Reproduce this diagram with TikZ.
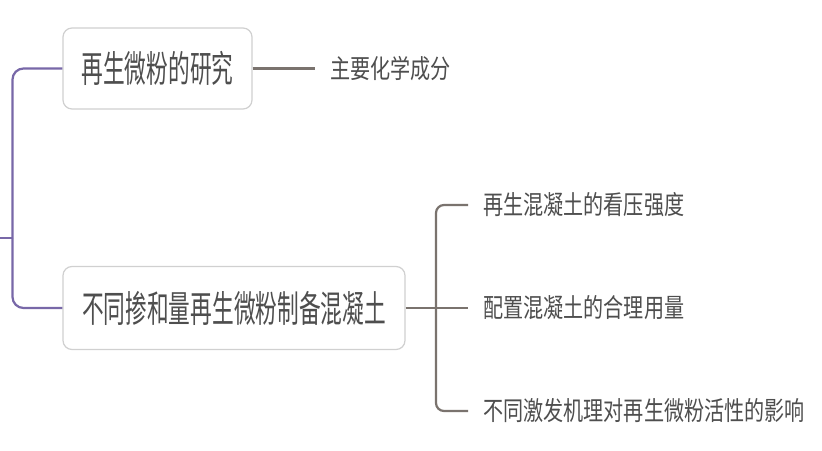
\documentclass[tikz,border=0pt]{standalone}
\usepackage{fontspec}
\usepackage{graphicx}
\newfontfamily\cjk{Noto Sans CJK SC}
\definecolor{txt}{RGB}{78,78,78}
\definecolor{conn}{RGB}{122,115,110}
\definecolor{purp}{RGB}{120,104,168}
\definecolor{boxline}{RGB}{208,208,208}
\newcommand\bigtxt[1]{\scalebox{1}[1.7]{\cjk\fontsize{21.7pt}{21.7pt}\selectfont #1}}
\newcommand\leaftxt[1]{\scalebox{1}[1.3]{\cjk\fontsize{20.1pt}{20.1pt}\selectfont #1}}
\begin{document}
\begin{tikzpicture}[x=1pt,y=-1pt,
  topicbox/.style={draw=boxline,line width=1.2pt,fill=white,rounded corners=9pt,text=txt,inner sep=0pt,anchor=center},
  leaf/.style={anchor=west,text=txt,inner xsep=15pt,inner ysep=0pt},
  purpline/.style={draw=purp,line width=2.2pt},
  greyline/.style={draw=conn,line width=2.2pt}]
\useasboundingbox (0,0) rectangle (822,450);
\fill[white] (0,0) rectangle (822,450);
% topic boxes
\node[topicbox,minimum width=189pt,minimum height=81pt] (b1) at (157.5,68.5) {\bigtxt{再生微粉的研究}};
\node[topicbox,minimum width=342pt,minimum height=83pt] (b2) at (234,308) {\bigtxt{不同掺和量再生微粉制备混凝土}};
% leaves
\node[leaf] (t1) at (315,68.5) {\leaftxt{主要化学成分}};
\node[leaf] (r1) at (468,205) {\leaftxt{再生混凝土的看压强度}};
\node[leaf] (r2) at (468,308) {\leaftxt{配置混凝土的合理用量}};
\node[leaf] (r3) at (468,411) {\leaftxt{不同激发机理对再生微粉活性的影响}};
% purple root connectors
\coordinate (root) at (0,238);
\coordinate (rj) at (12.5,238);
\draw[purpline] (root) -- (rj);
\draw[purpline,rounded corners=11pt] (rj) |- (b1.west);
\draw[purpline,rounded corners=11pt] (rj) |- (b2.west);
% grey connectors
\draw[greyline] (b1.east) -- (t1.west);
\coordinate (j2) at (436,308);
\draw[greyline] (b2.east) -- (j2);
\draw[greyline,rounded corners=8pt] (j2) |- (r1.west);
\draw[greyline] (j2) -- (r2.west);
\draw[greyline,rounded corners=8pt] (j2) |- (r3.west);
\end{tikzpicture}
\end{document}
